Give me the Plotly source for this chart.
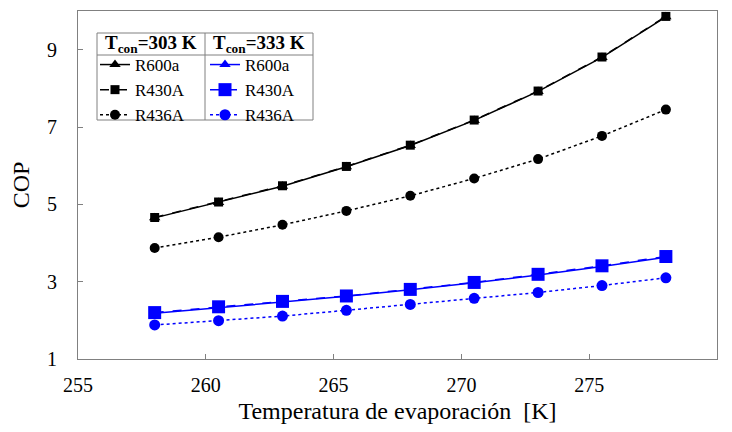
import plotly.graph_objects as go

t_evap = [258, 260.5, 263, 265.5, 268, 270.5, 273, 275.5, 278]

r600a_303 = [4.65, 5.05, 5.47, 5.97, 6.52, 7.17, 7.92, 8.80, 9.85]
r430a_303 = [4.66, 5.06, 5.48, 5.98, 6.53, 7.18, 7.93, 8.81, 9.86]
r436a_303 = [3.87, 4.15, 4.47, 4.83, 5.22, 5.67, 6.17, 6.77, 7.45]

r600a_333 = [2.18, 2.33, 2.47, 2.62, 2.79, 2.97, 3.17, 3.39, 3.63]
r430a_333 = [2.20, 2.35, 2.49, 2.63, 2.80, 2.98, 3.19, 3.41, 3.65]
r436a_333 = [1.88, 1.99, 2.11, 2.26, 2.41, 2.57, 2.72, 2.90, 3.10]

x_ticks = [255, 260, 265, 270, 275, 280]
y_ticks = [1, 3, 5, 7, 9]

header_303 = "<b>T<sub>con</sub>=303 K</b>"
header_333 = "<b>T<sub>con</sub>=333 K</b>"

FONT = "Liberation Serif, Times New Roman, serif"

fig = go.Figure()

def add(y, name, color, dash, symbol, size, legend):
    fig.add_trace(go.Scatter(
        x=t_evap, y=y, name=name, mode="lines+markers",
        line=dict(color=color, width=1.5, dash=dash),
        marker=dict(symbol=symbol, size=size, color=color),
        legend=legend,
    ))

add(r600a_303, "R600a", "black", "solid", "triangle-up", 10, "legend")
add(r430a_303, "R430A", "black", "dash", "square", 9, "legend")
add(r436a_303, "R436A", "black", "dot", "circle", 10, "legend")
add(r600a_333, "R600a", "blue", "solid", "triangle-up", 10, "legend2")
add(r430a_333, "R430A", "blue", "dash", "square", 13, "legend2")
add(r436a_333, "R436A", "blue", "dot", "circle", 11, "legend2")

# page body has an 8px margin; figure coordinates below are window - 8
OFF = 8
W, H = 716, 416
L, R, T, B = 70, 7, 3, 65
pw, ph = W - L - R, H - T - B

def px(xw):
    return (xw - OFF - L) / pw

def py(yw):
    return 1 - (yw - OFF - T) / ph

legend_common = dict(
    bgcolor="rgba(0,0,0,0)", borderwidth=0,
    font=dict(family=FONT, size=17, color="black"),
    itemwidth=30, tracegroupgap=0,
    xanchor="left", yanchor="top",
)

fig.update_layout(
    width=W, height=H,
    margin=dict(l=L, r=R, t=T, b=B, autoexpand=False),
    plot_bgcolor="white", paper_bgcolor="white",
    font=dict(family=FONT, size=18, color="black"),
    xaxis=dict(
        range=[255, 280], tickvals=x_ticks, ticks="inside", ticklen=5,
        tickcolor="#808080", showline=True, linecolor="#808080", linewidth=1,
        mirror=True, showgrid=False, zeroline=False, automargin=False,
        ticklabelstandoff=8,
        tickfont=dict(family=FONT, size=20),
        title=dict(text="Temperatura de evaporación  [K]", font=dict(family=FONT, size=24), standoff=20),
    ),
    yaxis=dict(
        range=[1, 10], tickvals=y_ticks, ticks="inside", ticklen=5,
        tickcolor="#808080", showline=True, linecolor="#808080", linewidth=1,
        mirror=True, showgrid=False, zeroline=False, automargin=False,
        ticklabelstandoff=16,
        tickfont=dict(family=FONT, size=20),
        title=dict(text="COP", font=dict(family=FONT, size=24), standoff=12),
    ),
    legend=dict(x=px(95), y=py(47), **legend_common),
    legend2=dict(x=px(205), y=py(47), **legend_common),
    showlegend=True,
)

for txt, xc in ((header_303, 151), (header_333, 259)):
    fig.add_annotation(text=txt, xref="paper", yref="paper",
                       x=px(xc), y=py(44), xanchor="center", yanchor="middle",
                       showarrow=False,
                       font=dict(family=FONT, size=19, color="black"))

box_col = "#808080"
fig.add_shape(type="rect", xref="paper", yref="paper",
              x0=px(97), x1=px(313), y0=py(120), y1=py(33),
              line=dict(color=box_col, width=1))
fig.add_shape(type="line", xref="paper", yref="paper",
              x0=px(97), x1=px(313), y0=py(55), y1=py(55),
              line=dict(color=box_col, width=1))
fig.add_shape(type="line", xref="paper", yref="paper",
              x0=px(205), x1=px(205), y0=py(120), y1=py(33),
              line=dict(color=box_col, width=1))

fig.write_html("out.html")
